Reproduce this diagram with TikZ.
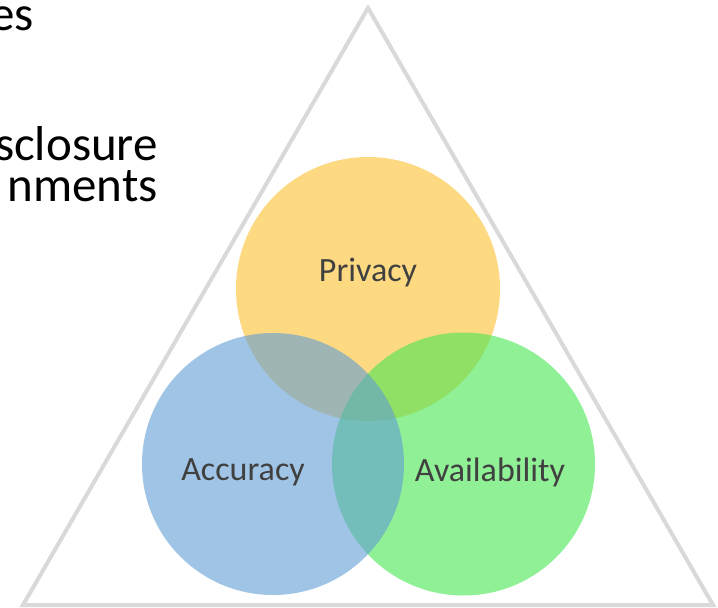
\documentclass[tikz,border=0pt]{standalone}
\usepackage{fontspec}
\setmainfont{Carlito}
\begin{document}
\begin{tikzpicture}[x=1pt,y=-1pt,
  slidetext/.style={anchor=base east,inner sep=0pt,font=\fontsize{49}{56}\selectfont,text=black},
  venn/.style={circle,inner sep=0pt,minimum size=264pt,fill opacity=0.6,draw=none},
  venntext/.style={inner sep=0pt,font=\fontsize{34}{40}\selectfont,text=black!75}]
\useasboundingbox (0,0) rectangle (718,608);
\fill[white] (0,0) rectangle (718,608);
% triangle
\coordinate (apex) at (368,8);
\coordinate (bl) at (23,605);
\coordinate (br) at (713,605);
\draw[line width=4pt,color=black!15,line join=miter] (apex) -- (br) -- (bl) -- cycle;
% slide text
\node[slidetext] (t1) at (34,30) {es};
\node[slidetext] (t2) at (158,160) {sclosure};
\node[slidetext] (t3) at (158,201) {nments};
% circles
\node[venn,fill={rgb,255:red,253;green,193;blue,47}] (privacy) at (368,289) {};
\node[venn,fill={rgb,255:red,70;green,230;blue,80},minimum size=263pt] (availability) at (463.5,464) {};
\node[venn,fill={rgb,255:red,97;green,157;blue,213},minimum size=262pt] (accuracy) at (273,464) {};
% labels
\node[venntext] (lp) at (368,273) {Privacy};
\node[venntext] (la) at (243,472) {Accuracy};
\node[venntext] (lv) at (490,472) {Availability};
\end{tikzpicture}
\end{document}
